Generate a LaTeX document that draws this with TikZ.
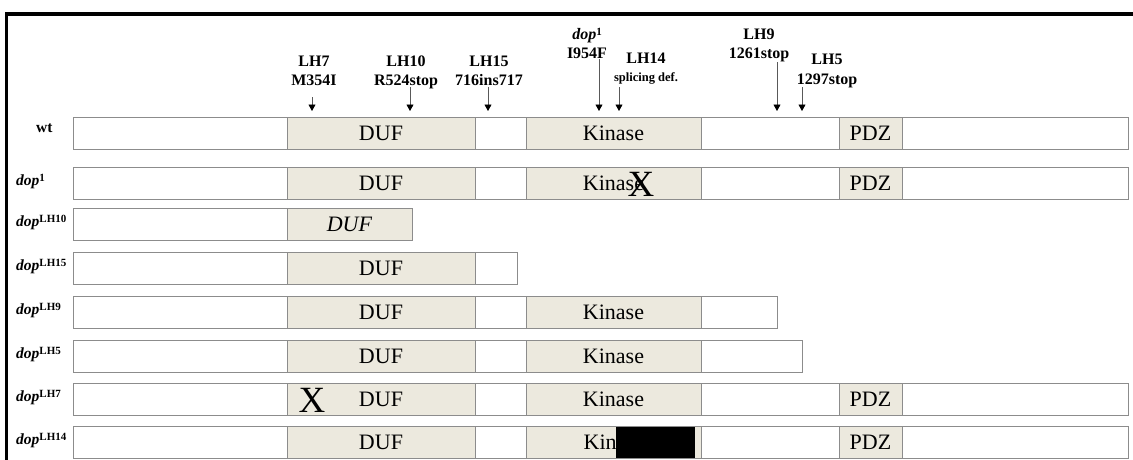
\documentclass[tikz,border=0pt]{standalone}
\usepackage{fontspec}
\setmainfont{Liberation Serif}
\usetikzlibrary{arrows.meta}
\definecolor{dombg}{RGB}{236,233,222}
\definecolor{edgegray}{RGB}{140,140,140}
\tikzset{
  seg/.style={draw=edgegray, line width=1pt, fill=white},
  dom/.style={draw=edgegray, line width=1pt, fill=dombg},
  domtext/.style={font=\fontsize{22}{24}\selectfont, inner sep=0pt},
  mut/.style={font=\bfseries\fontsize{16}{18}\selectfont, anchor=base, inner sep=0pt},
  mutsmall/.style={font=\bfseries\fontsize{12.5}{14}\selectfont, anchor=base, inner sep=0pt},
  rowlab/.style={font=\bfseries\fontsize{15.5}{18}\selectfont, anchor=base west, inner sep=0pt},
  arr/.style={draw=black!65, line width=0.8pt, -{Triangle[length=6.5pt,width=7pt,color=black]}},
  bigx/.style={font=\fontsize{37}{40}\selectfont, inner sep=0pt},
  frameline/.style={line width=3.5pt, black}
}
\newcommand{\rowbox}[3]{\draw[seg] (73,#1) rectangle (#3,#2);}
\newcommand{\dombox}[6]{%
  \draw[dom] (#2,#4) rectangle (#3,#5);
  \node[domtext] (#1) at ({(#2+#3)/2},{(#4+#5)/2+0.5}) {#6};}
\newcommand{\dopsup}[1]{\textit{dop}\raisebox{4pt}{\fontsize{11}{12}\selectfont\bfseries\upshape #1}}
\begin{document}
\begin{tikzpicture}[x=1pt,y=-1pt]
\useasboundingbox (0,0) rectangle (1133,459);
% frame
\draw[frameline] (6.5,460) -- (6.5,14) -- (1134,14);

% mutation labels
\node[mut] (l7a) at (314,66) {LH7};
\node[mut] (l7b) at (314,85) {M354I};
\node[mut] (l10a) at (406,66) {LH10};
\node[mut] (l10b) at (406,85) {R524stop};
\node[mut] (l15a) at (489,66) {LH15};
\node[mut] (l15b) at (489,85) {716ins717};
\node[mut] (d1a) at (587,39) {\dopsup{1}};
\node[mut] (d1b) at (587,58) {I954F};
\node[mut] (l14a) at (646,63) {LH14};
\node[mutsmall] (l14b) at (646,81) {splicing def.};
\node[mut] (l9a) at (759,39) {LH9};
\node[mut] (l9b) at (759,58) {1261stop};
\node[mut] (l5a) at (827,64) {LH5};
\node[mut] (l5b) at (827,84) {1297stop};

% arrows
\coordinate (a7s) at (312,97);  \coordinate (a7e) at (312,111);
\coordinate (a10s) at (410,87); \coordinate (a10e) at (410,111);
\coordinate (a15s) at (488,87); \coordinate (a15e) at (488,111);
\coordinate (ad1s) at (599,59); \coordinate (ad1e) at (599,111);
\coordinate (a14s) at (619,87); \coordinate (a14e) at (619,111);
\coordinate (a9s) at (777,62);  \coordinate (a9e) at (777,111);
\coordinate (a5s) at (802,87);  \coordinate (a5e) at (802,111);
\foreach \n in {7,10,15,d1,14,9,5} \draw[arr] (a\n s) -- (a\n e);

% row labels
\node[rowlab] (rwt) at (36,132) {wt};
\node[rowlab] (rd1) at (16,185) {\dopsup{1}};
\node[rowlab] (r10) at (16,226) {\dopsup{LH10}};
\node[rowlab] (r15) at (16,270) {\dopsup{LH15}};
\node[rowlab] (r9) at (16,314) {\dopsup{LH9}};
\node[rowlab] (r5) at (16,358) {\dopsup{LH5}};
\node[rowlab] (r7) at (16,401) {\dopsup{LH7}};
\node[rowlab] (r14) at (16,444) {\dopsup{LH14}};

% wt
\rowbox{117}{149}{1128}
\dombox{wtD}{287}{475}{117}{149}{DUF}
\dombox{wtK}{526}{701}{117}{149}{Kinase}
\dombox{wtP}{839}{902}{117}{149}{PDZ}
% dop1
\rowbox{167}{199}{1128}
\dombox{d1D}{287}{475}{167}{199}{DUF}
\dombox{d1K}{526}{701}{167}{199}{Kinase}
\dombox{d1P}{839}{902}{167}{199}{PDZ}
\node[bigx] (d1X) at (641,184) {X};
% LH10
\rowbox{208}{240}{412}
\dombox{h10D}{287}{412}{208}{240}{\textit{DUF}}
% LH15
\rowbox{252}{284}{517}
\dombox{h15D}{287}{475}{252}{284}{DUF}
% LH9
\rowbox{296}{328}{777}
\dombox{h9D}{287}{475}{296}{328}{DUF}
\dombox{h9K}{526}{701}{296}{328}{Kinase}
% LH5
\rowbox{340}{372}{802}
\dombox{h5D}{287}{475}{340}{372}{DUF}
\dombox{h5K}{526}{701}{340}{372}{Kinase}
% LH7
\rowbox{383}{415}{1128}
\dombox{h7D}{287}{475}{383}{415}{DUF}
\dombox{h7K}{526}{701}{383}{415}{Kinase}
\dombox{h7P}{839}{902}{383}{415}{PDZ}
\node[bigx] (h7X) at (312,400) {X};
% LH14
\rowbox{426}{458}{1128}
\dombox{h14D}{287}{475}{426}{458}{DUF}
\draw[dom] (526,426) rectangle (701,458);
\node[domtext, anchor=west] (h14K) at (583.5,442.5) {Kin};
\fill[black] (616,427) rectangle (695,457.5);
\dombox{h14P}{839}{902}{426}{458}{PDZ}
\end{tikzpicture}
\end{document}
